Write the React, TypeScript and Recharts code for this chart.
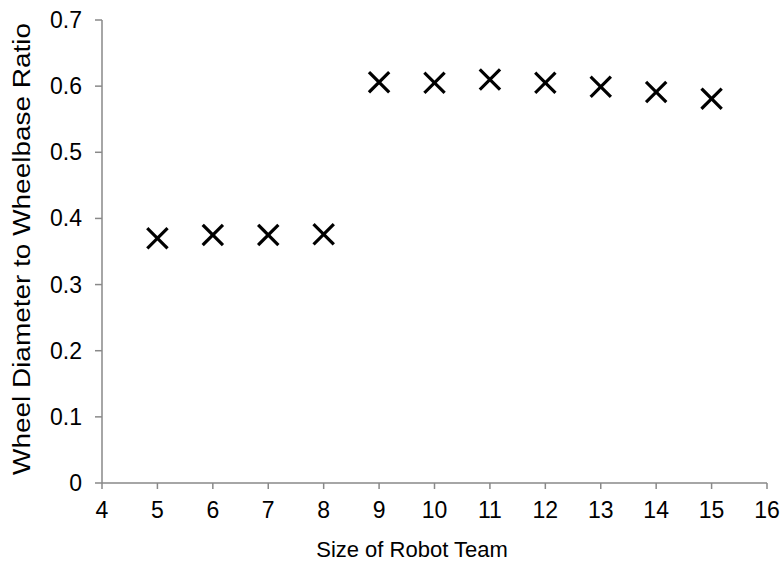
import { ScatterChart, Scatter, XAxis, YAxis } from "recharts";

const teamSizes = [5, 6, 7, 8, 9, 10, 11, 12, 13, 14, 15];
const ratios = [0.37, 0.375, 0.375, 0.376, 0.606, 0.605, 0.61, 0.605, 0.599, 0.591, 0.581];
const xTicks = [4, 5, 6, 7, 8, 9, 10, 11, 12, 13, 14, 15, 16];
const yTicks = [0, 0.1, 0.2, 0.3, 0.4, 0.5, 0.6, 0.7];

const data = teamSizes.map((size, i) => ({ size, ratio: ratios[i] }));

const FONT = "'Liberation Sans', Arial, sans-serif";
const AXIS_COLOR = "#898989";
const TICK_FONT = 23;

function Cross(props: any) {
  const { cx, cy } = props;
  const r = 9;
  return (
    <g stroke="#000" strokeWidth={3.2} strokeLinecap="square">
      <line x1={cx - r} y1={cy - r} x2={cx + r} y2={cy + r} />
      <line x1={cx - r} y1={cy + r} x2={cx + r} y2={cy - r} />
    </g>
  );
}

function XTick(props: any) {
  const { x, y, payload } = props;
  return (
    <text x={x} y={y + 17} textAnchor="middle" fontSize={TICK_FONT} fontFamily={FONT} fill="#000">
      {payload.value}
    </text>
  );
}

function YTick(props: any) {
  const { x, y, payload } = props;
  return (
    <text x={x - 2} y={y + 8} textAnchor="end" fontSize={TICK_FONT} fontFamily={FONT} fill="#000">
      {payload.value}
    </text>
  );
}

export default function App() {
  return (
    <div style={{ position: "absolute", left: 0, top: 0, background: "#fff" }}>
      <ScatterChart width={782} height={562} margin={{ top: 20, right: 15, bottom: 0, left: 0 }}>
        <XAxis
          type="number"
          dataKey="size"
          domain={[4, 16]}
          ticks={xTicks}
          interval={0}
          height={79}
          tick={<XTick />}
          tickSize={6}
          tickMargin={12}
          stroke={AXIS_COLOR}
          strokeWidth={1.5}
          label={{
            content: () => (
              <text x={412} y={557} textAnchor="middle" fontSize={22} fontFamily={FONT} fill="#000">
                Size of Robot Team
              </text>
            ),
          }}
        />
        <YAxis
          type="number"
          dataKey="ratio"
          domain={[0, 0.7]}
          ticks={yTicks}
          interval={0}
          width={102}
          tick={<YTick />}
          tickSize={7}
          tickMargin={11}
          stroke={AXIS_COLOR}
          strokeWidth={1.5}
          label={{
            content: () => (
              <text
                x={22}
                y={249}
                transform="rotate(-90 22 249)"
                textAnchor="middle"
                dominantBaseline="central"
                fontSize={23}
                textLength={452}
                lengthAdjust="spacingAndGlyphs"
                fontFamily={FONT}
                fill="#000"
              >
                Wheel Diameter to Wheelbase Ratio
              </text>
            ),
          }}
        />
        <Scatter data={data} shape={<Cross />} isAnimationActive={false} />
      </ScatterChart>
    </div>
  );
}
